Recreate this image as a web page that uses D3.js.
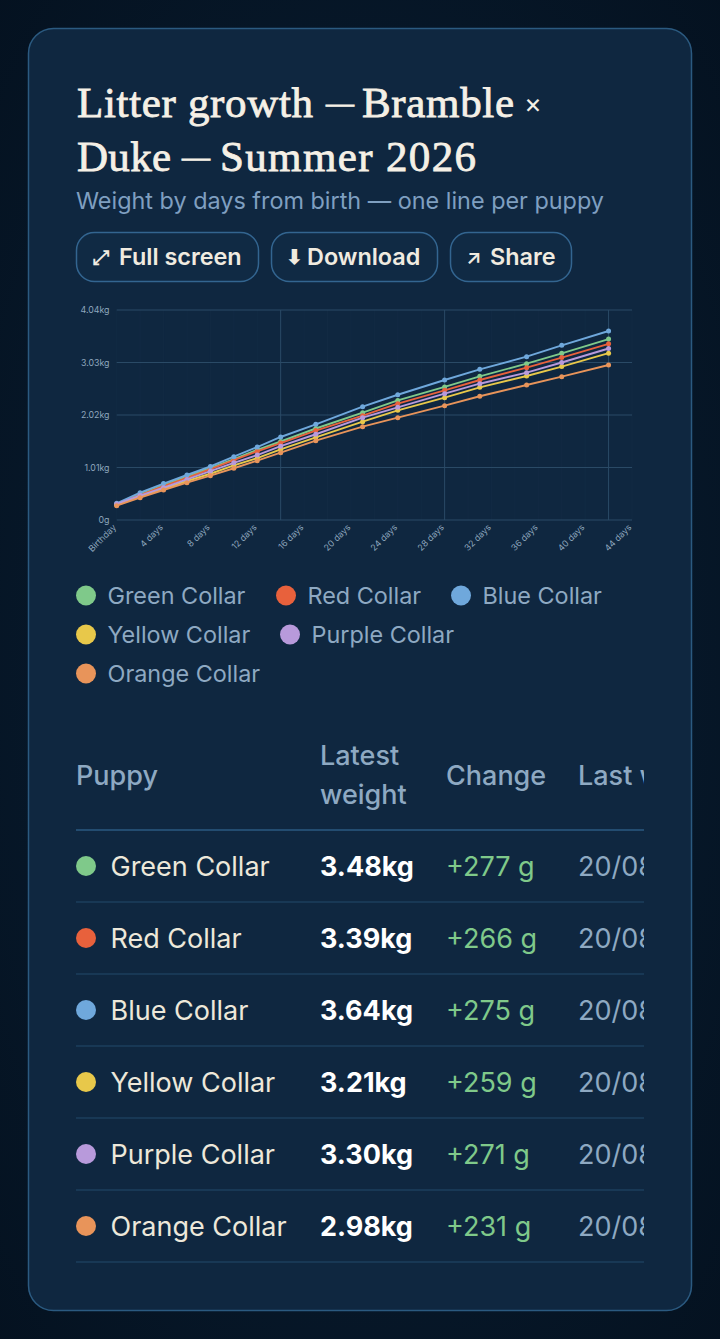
<!DOCTYPE html>
<html>
<head>
<meta charset="utf-8">
<script src="https://cdn.jsdelivr.net/npm/d3@7/dist/d3.min.js"></script>
<style>
html, body { margin: 0; padding: 0; background: #05132a; }
svg { display: block; }
text { font-family: Inter, "Noto Sans", sans-serif; }
</style>
</head>
<body>
<div id="page"></div>
<script>
// data
var days = [0, 2, 4, 6, 8, 10, 12, 14, 17, 21, 24, 28, 31, 35, 38, 42];
var tickDays = [0, 4, 8, 12, 16, 20, 24, 28, 32, 36, 40, 44];
var yTicks = [0, 1.01, 2.02, 3.03, 4.04];

var names = ["Green Collar", "Red Collar", "Blue Collar", "Yellow Collar", "Purple Collar", "Orange Collar"];
var colors = ["#7fc98a", "#e8613c", "#6fa8dc", "#e8c84a", "#b89adb", "#e8945a"];

var green = [0.31, 0.50, 0.67, 0.84, 1.00, 1.17, 1.35, 1.51, 1.76, 2.065, 2.30, 2.56, 2.764, 3.008, 3.207, 3.48];
var red = [0.30, 0.48, 0.65, 0.81, 0.98, 1.15, 1.32, 1.48, 1.72, 2.007, 2.238, 2.495, 2.693, 2.93, 3.124, 3.39];
var blue = [0.32, 0.525, 0.70, 0.866, 1.03, 1.218, 1.404, 1.597, 1.84, 2.18, 2.41, 2.693, 2.899, 3.142, 3.361, 3.636];
var yellow = [0.29, 0.45, 0.60, 0.75, 0.89, 1.05, 1.19, 1.36, 1.59, 1.891, 2.11, 2.353, 2.553, 2.77, 2.951, 3.21];
var purple = [0.31, 0.47, 0.62, 0.78, 0.94, 1.10, 1.25, 1.42, 1.65, 1.968, 2.168, 2.43, 2.622, 2.834, 3.03, 3.30];
var orange = [0.275, 0.43, 0.577, 0.718, 0.853, 0.995, 1.141, 1.295, 1.526, 1.795, 1.968, 2.199, 2.38, 2.597, 2.757, 2.982];
var series = [green, red, blue, yellow, purple, orange];

var latest = ["3.48kg", "3.39kg", "3.64kg", "3.21kg", "3.30kg", "2.98kg"];
var change = ["+277 g", "+266 g", "+275 g", "+259 g", "+271 g", "+231 g"];
var lastDate = "20/08/2026";

var svg = d3.select("#page").append("svg")
    .attr("width", 720)
    .attr("height", 1339);

// page background and card
var defs = svg.append("defs");
var grad = defs.append("radialGradient").attr("id", "bg").attr("cx", "50%").attr("cy", "50%").attr("r", "75%");
grad.append("stop").attr("offset", "0%").attr("stop-color", "#0a2036");
grad.append("stop").attr("offset", "100%").attr("stop-color", "#04111f");
defs.append("clipPath").attr("id", "tableClip").append("rect")
    .attr("x", 76).attr("y", 720).attr("width", 568).attr("height", 560);

svg.append("rect").attr("width", 720).attr("height", 1339).attr("fill", "url(#bg)");
svg.append("rect")
    .attr("x", 28.5).attr("y", 28.5).attr("width", 663).attr("height", 1282)
    .attr("rx", 25)
    .attr("fill", "#0f2740")
    .attr("stroke", "#2b5a80")
    .attr("stroke-width", 1.5);

// title block, each run stretched to the width in the picture
function titleRun(y, s, px, w, size) {
  var t = svg.append("text").attr("x", px).attr("y", y).text(s)
      .attr("font-size", size).attr("fill", "#f5f0e6")
      .attr("stroke", "#f5f0e6").attr("stroke-width", 0.8)
      .style("font-family", "'Liberation Serif', serif");
  if (w) t.attr("textLength", w);
}
titleRun(117, "Litter growth", 77, 236, 43);
titleRun(112, "—", 326, 0, 28);
titleRun(117, "Bramble", 362, 152, 43);
titleRun(171, "Duke", 77, 94, 43);
titleRun(166, "—", 182, 0, 28);
titleRun(171, "Summer 2026", 220, 256, 43);
svg.append("text").attr("x", 524).attr("y", 113).text("×")
    .attr("font-size", 27).attr("fill", "#f5f0e6");
svg.append("text").attr("x", 76).attr("y", 209).text("Weight by days from birth — one line per puppy")
    .attr("font-size", 23.4).attr("fill", "#7f9fc0");

// buttons
var buttons = [
  {icon: "⤢", label: "Full screen", x: 76, w: 182, ix: 93, tx: 119},
  {icon: "⬇", label: "Download", x: 271, w: 166, ix: 286, tx: 307},
  {icon: "↗", label: "Share", x: 450, w: 121, ix: 466, tx: 490}
];
var btn = svg.selectAll(".btn").data(buttons).enter().append("g").attr("class", "btn");
btn.append("rect")
    .attr("x", function(d) { return d.x + 0.5; })
    .attr("y", 232.5)
    .attr("width", function(d) { return d.w; })
    .attr("height", 49)
    .attr("rx", 18)
    .attr("fill", "#102a44")
    .attr("stroke", "#336590")
    .attr("stroke-width", 1.5);
btn.append("text")
    .attr("x", function(d) { return d.ix; })
    .attr("y", 264)
    .attr("font-size", 20)
    .attr("font-weight", 600)
    .attr("fill", "#f0ebe0")
    .text(function(d) { return d.icon; });
btn.append("text")
    .attr("x", function(d) { return d.tx; })
    .attr("y", 265)
    .attr("font-size", 23.4)
    .attr("font-weight", 600)
    .attr("fill", "#f0ebe0")
    .text(function(d) { return d.label; });

// chart
var x = d3.scaleLinear().domain([0, 44]).range([116.7, 632]);
var y = d3.scaleLinear().domain([0, 4.04]).range([520, 310]);

var chart = svg.append("g");

// faint lines every 2 days, stronger every 14
chart.selectAll(".vgrid").data(d3.range(0, 45, 2)).enter().append("line")
    .attr("x1", function(d) { return x(d); })
    .attr("x2", function(d) { return x(d); })
    .attr("y1", 310)
    .attr("y2", 520)
    .attr("stroke", function(d) { return d > 0 && d % 14 === 0 ? "#2a4a66" : "#122a43"; })
    .attr("stroke-width", 1);

chart.selectAll(".hgrid").data(yTicks).enter().append("line")
    .attr("x1", 116.7)
    .attr("x2", 632)
    .attr("y1", function(d) { return y(d); })
    .attr("y2", function(d) { return y(d); })
    .attr("stroke", "#2a4a66")
    .attr("stroke-width", 1);

chart.selectAll(".ylab").data(yTicks).enter().append("text")
    .attr("x", 109.5)
    .attr("y", function(d) { return y(d) + 3; })
    .attr("text-anchor", "end")
    .attr("font-size", 8.8)
    .attr("fill", "#8ea6bd")
    .text(function(d) { return d === 0 ? "0g" : d.toFixed(2) + "kg"; });

chart.selectAll(".xlab").data(tickDays).enter().append("text")
    .attr("transform", function(d) { return "translate(" + x(d) + ",528) rotate(-45)"; })
    .attr("text-anchor", "end")
    .attr("font-size", 8.8)
    .attr("fill", "#8ea6bd")
    .text(function(d) { return d === 0 ? "Birthday" : d + " days"; });

var line = d3.line()
    .x(function(d, i) { return x(days[i]); })
    .y(function(d) { return y(d); });

series.forEach(function(s, k) {
  chart.append("path")
      .attr("d", line(s))
      .attr("fill", "none")
      .attr("stroke", colors[k])
      .attr("stroke-width", 1.9);
  chart.selectAll(".pt" + k).data(s).enter().append("circle")
      .attr("cx", function(d, i) { return x(days[i]); })
      .attr("cy", function(d) { return y(d); })
      .attr("r", 2.5)
      .attr("fill", colors[k]);
});

// legend rows, wrapped like the picture
var legendRows = [[0, 1, 2], [3, 4], [5]];
var legendX = [[86, 286, 461], [86, 290], [86]];
legendRows.forEach(function(row, r) {
  row.forEach(function(k, j) {
    var cy = 595.5 + r * 39;
    svg.append("circle")
        .attr("cx", legendX[r][j]).attr("cy", cy).attr("r", 10).attr("fill", colors[k]);
    svg.append("text")
        .attr("x", legendX[r][j] + 21.5).attr("y", cy + 8)
        .attr("font-size", 23.4).attr("fill", "#8ea9c2")
        .text(names[k]);
  });
});

// table, clipped at the scroll edge
var table = svg.append("g").attr("clip-path", "url(#tableClip)");
var headStyle = function(sel) {
  return sel.attr("font-size", 27).attr("fill", "#8ea9c2").attr("font-weight", 500);
};
headStyle(table.append("text").attr("x", 76).attr("y", 784.5).text("Puppy"));
headStyle(table.append("text").attr("x", 320).attr("y", 765).text("Latest"));
headStyle(table.append("text").attr("x", 320).attr("y", 804).text("weight"));
headStyle(table.append("text").attr("x", 446).attr("y", 784.5).text("Change"));
headStyle(table.append("text").attr("x", 578).attr("y", 784.5).text("Last weighed"));

table.append("line").attr("x1", 76).attr("x2", 644).attr("y1", 830).attr("y2", 830)
    .attr("stroke", "#2b5a80").attr("stroke-width", 1.5);

names.forEach(function(n, i) {
  var cy = 866 + i * 72;
  table.append("circle").attr("cx", 86).attr("cy", cy).attr("r", 10).attr("fill", colors[i]);
  table.append("text").attr("x", 110.5).attr("y", cy + 9.5).attr("font-size", 27)
      .attr("fill", "#ede8da").text(n);
  table.append("text").attr("x", 320).attr("y", cy + 9.5).attr("font-size", 27)
      .attr("font-weight", 700).attr("fill", "#ffffff").text(latest[i]);
  table.append("text").attr("x", 446).attr("y", cy + 9.5).attr("font-size", 27)
      .attr("fill", "#7fc98a").text(change[i]);
  table.append("text").attr("x", 578).attr("y", cy + 9.5).attr("font-size", 27)
      .attr("fill", "#8ea9c2").text(lastDate);
  table.append("line").attr("x1", 76).attr("x2", 644).attr("y1", cy + 36).attr("y2", cy + 36)
      .attr("stroke", "#1d3f5c").attr("stroke-width", 1.5);
});
</script>
</body>
</html>
